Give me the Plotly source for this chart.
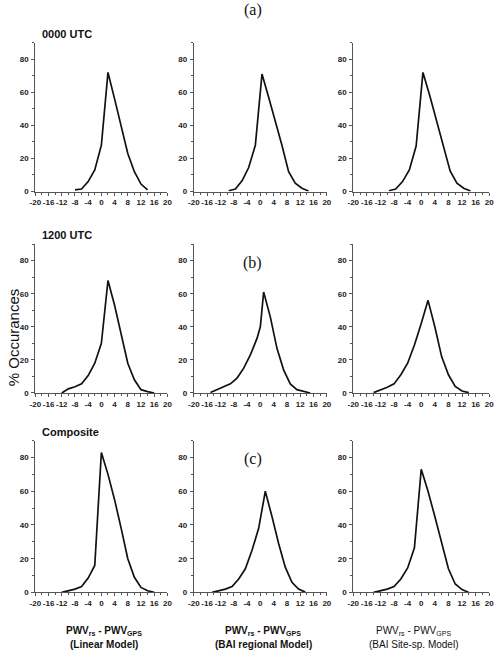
import plotly.graph_objects as go

# ---- data (x = PWV difference bin, y = % occurrences) ----
x_00_lin = [-8, -6, -4, -2, 0, 2, 4, 6, 8, 10, 12, 14]
y_00_lin = [1, 1.5, 6, 13, 28, 72, 56, 40, 23, 12, 4.5, 1]

x_00_reg = [-9.5, -7.5, -5.5, -3.5, -1.5, 0.5, 2.5, 4.5, 6.5, 8.5, 10.5, 12.5, 14.5]
y_00_reg = [0.5, 1.5, 6.5, 14.5, 28, 71, 57, 43, 28, 12, 5, 2, 0.3]

x_00_site = [-9.5, -7.5, -5.5, -3.5, -1.5, 0.5, 2.5, 4.5, 6.5, 8.5, 10.5, 12.5, 14.5]
y_00_site = [0.5, 1.5, 6, 13, 27.5, 72, 58, 43, 27, 12.5, 5, 2, 0.3]

x_12_lin = [-12, -10, -8, -6, -4, -2, 0, 2, 4, 6, 8, 10, 12, 14, 16]
y_12_lin = [0, 2.5, 3.8, 5.5, 10.5, 18, 30, 68, 53, 36, 18, 8, 2, 0.8, 0]

x_12_reg = [-15, -13, -11, -9, -7, -5, -3, -1, 0, 1, 3, 5, 7, 9, 11, 13, 15]
y_12_reg = [0.3, 2, 3.5, 5.5, 9, 15, 23, 33, 40, 61, 46, 27, 14, 5.5, 2, 0.8, 0]

x_12_site = [-14, -12, -10, -8, -6, -4, -2, 0, 2, 4, 6, 8, 10, 12, 14]
y_12_site = [0.2, 1.8, 3.5, 5.5, 11, 18, 29, 42, 56, 40, 22, 11, 4, 1.2, 0.2]

x_c_lin = [-12, -10, -8, -6, -4, -2, 0, 2, 4, 6, 8, 10, 12, 14, 16]
y_c_lin = [0, 1, 2, 3.5, 8.5, 16, 83, 70, 55, 38, 20, 9, 3, 1, 0]

x_c_reg = [-14.5, -12.5, -10.5, -8.5, -6.5, -4.5, -2.5, -0.5, 1.5, 3.5, 5.5, 7.5, 9.5, 11.5, 13.5]
y_c_reg = [0, 1, 2, 3.5, 8, 14, 25, 38, 60, 45, 29, 15, 6, 2, 0.2]

x_c_site = [-14, -12, -10, -8, -6, -4, -2, 0, 2, 4, 6, 8, 10, 12, 14]
y_c_site = [0, 0.8, 2, 3.5, 8, 14.5, 26.5, 73, 60, 45, 29, 14, 5, 1.7, 0]

panels = [
    (x_00_lin, y_00_lin), (x_00_reg, y_00_reg), (x_00_site, y_00_site),
    (x_12_lin, y_12_lin), (x_12_reg, y_12_reg), (x_12_site, y_12_site),
    (x_c_lin, y_c_lin), (x_c_reg, y_c_reg), (x_c_site, y_c_site),
]

row_titles = ["0000 UTC", "1200 UTC", "Composite"]
panel_letters = ["(a)", "(b)", "(c)"]
x_ticks = list(range(-20, 21, 4))
y_ticks = [0, 20, 40, 60, 80]

W, H = 504, 656
col_px = [(30, 165), (192, 328), (355, 494)]
row_px = [(43, 193), (246, 396), (444, 597)]

def px_x(p):
    return p / W

def px_y(p):
    return 1 - p / H

fig = go.Figure()
tick_font = dict(family="Liberation Sans, Arial", size=8, color="#222", weight="bold")

for i, (xs, ys) in enumerate(panels):
    r, c = divmod(i, 3)
    n = i + 1
    xa = "x" if n == 1 else f"x{n}"
    ya = "y" if n == 1 else f"y{n}"
    fig.add_trace(go.Scatter(x=xs, y=ys, mode="lines", xaxis=xa, yaxis=ya,
                             line=dict(color="#111", width=1.7), showlegend=False))
    xkey = "xaxis" if n == 1 else f"xaxis{n}"
    ykey = "yaxis" if n == 1 else f"yaxis{n}"
    x0, x1 = col_px[c]
    y0, y1 = row_px[r]
    fig.layout[xkey] = dict(
        domain=[px_x(x0), px_x(x1)], range=[-20, 20], anchor=ya,
        tickvals=x_ticks, ticktext=[str(v) for v in x_ticks], tickangle=0,
        showline=True, linecolor="#555", linewidth=1, ticks="outside",
        ticklen=3, tickcolor="#555", showgrid=False, zeroline=False,
        tickfont=tick_font, ticklabelstandoff=0,
        minor=dict(dtick=2, tick0=0, ticks="outside", ticklen=2, tickcolor="#555"),
    )
    fig.layout[ykey] = dict(
        domain=[px_y(y1), px_y(y0)], range=[0, 90], anchor=xa,
        tickvals=y_ticks, ticktext=[str(v) for v in y_ticks],
        showline=True, linecolor="#555", linewidth=1, ticks="outside",
        ticklen=3, tickcolor="#555", showgrid=False, zeroline=False,
        tickfont=tick_font, ticklabelstandoff=1,
        minor=dict(dtick=10, tick0=0, ticks="outside", ticklen=2, tickcolor="#555"),
    )

annotations = []
# row titles
for r, t in enumerate(row_titles):
    annotations.append(dict(text=t, x=px_x(35), y=px_y(row_px[r][0] - 9),
                            xref="paper", yref="paper", xanchor="left", yanchor="middle",
                            showarrow=False,
                            font=dict(family="Liberation Sans, Arial", size=11, color="#111", weight="bold")))
# panel letters
for yy, t in zip([10, 265, 463], panel_letters):
    annotations.append(dict(text=t, x=px_x(252), y=px_y(yy), xref="paper", yref="paper",
                            xanchor="center", yanchor="middle", showarrow=False,
                            font=dict(family="Liberation Serif, Times New Roman", size=16, color="#111")))
# y-axis label
annotations.append(dict(text="% Occurances", x=px_x(8), y=px_y(340), xref="paper", yref="paper",
                        xanchor="center", yanchor="middle", textangle=-90, showarrow=False,
                        font=dict(family="Liberation Sans, Arial", size=15, color="#111")))
# bottom labels
bottom = [("(Linear Model)", "bold"), ("(BAI regional Model)", "bold"), ("(BAI Site-sp. Model)", "normal")]
centers = [100, 263, 417]
for cx, (lab, wt) in zip(centers, bottom):
    annotations.append(dict(text="PWV<sub>rs</sub> - PWV<sub>GPS</sub>", x=px_x(cx), y=px_y(636),
                            xref="paper", yref="paper", xanchor="center", yanchor="middle",
                            showarrow=False,
                            font=dict(family="Liberation Sans, Arial", size=10, color="#111", weight=wt)))
    annotations.append(dict(text=lab, x=px_x(cx), y=px_y(649),
                            xref="paper", yref="paper", xanchor="center", yanchor="middle",
                            showarrow=False,
                            font=dict(family="Liberation Sans, Arial", size=10, color="#111", weight=wt)))

fig.update_layout(width=W, height=H, margin=dict(l=0, r=0, t=0, b=0),
                  paper_bgcolor="white", plot_bgcolor="white",
                  annotations=annotations)

fig.write_html("out.html")
